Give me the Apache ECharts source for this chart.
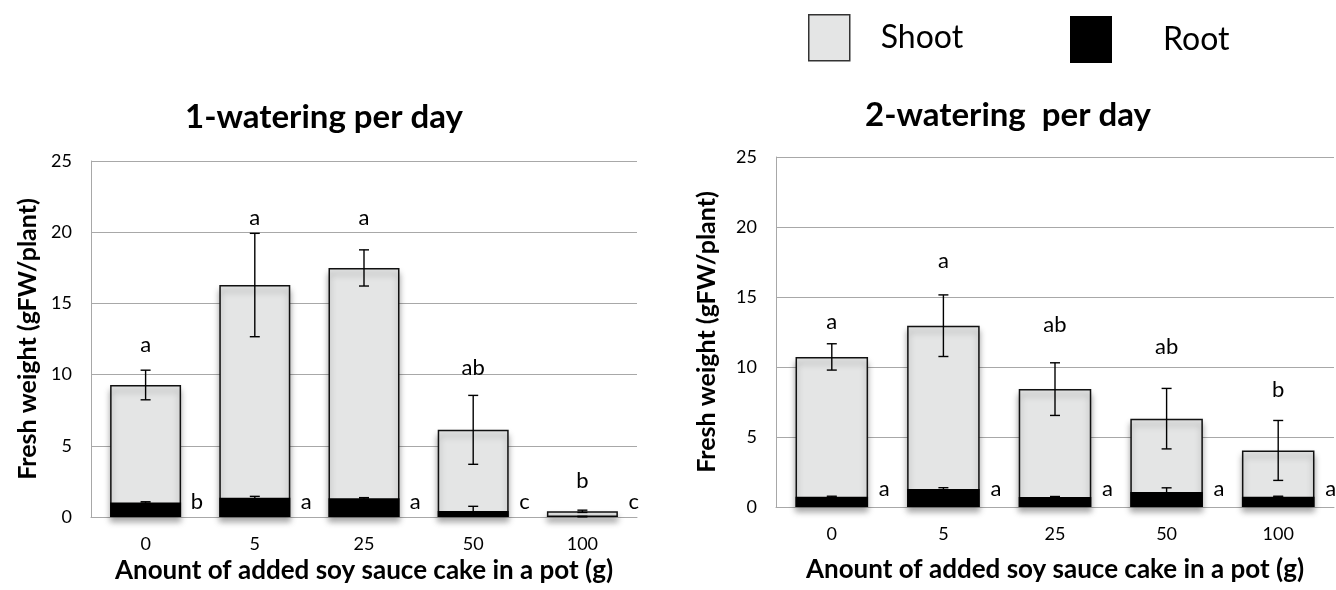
<!DOCTYPE html>
<html>
<head>
<meta charset="utf-8">
<script src="https://cdn.jsdelivr.net/npm/echarts@6/dist/echarts.min.js"></script>
<style>
  html, body { margin: 0; padding: 0; background: #ffffff; }
  #chart { width: 1336px; height: 590px; }
</style>
</head>
<body>
<div id="chart"></div>
<script>
// Amount of soy sauce cake added per pot (g)
const categories = ['0', '5', '25', '50', '100'];

// 1-watering per day: fresh weight (gFW/plant), mean and error
const shoot1 = [9.27, 16.29, 17.49, 6.12, 0.40];
const shoot1Err = [1.04, 3.63, 1.27, 2.42, 0.08];
const root1 = [1.02, 1.35, 1.31, 0.42, 0.03];
const root1Err = [0.05, 0.10, 0.05, 0.33, 0.02];
const shoot1Letters = ['a', 'a', 'a', 'ab', 'b'];
const shoot1LetterAt = [12.1, 21.0, 21.0, 10.5, 2.5];
const root1Letters = ['b', 'a', 'a', 'c', 'c'];
const root1LetterAt = 1.05;

// 2-watering per day
const shoot2 = [10.72, 12.95, 8.42, 6.31, 4.04];
const shoot2Err = [0.94, 2.20, 1.88, 2.16, 2.14];
const root2 = [0.73, 1.28, 0.71, 1.07, 0.74];
const root2Err = [0.04, 0.10, 0.04, 0.30, 0.03];
const shoot2Letters = ['a', 'a', 'ab', 'ab', 'b'];
const shoot2LetterAt = [13.2, 17.6, 13.0, 11.45, 8.35];
const root2Letters = ['a', 'a', 'a', 'a', 'a'];
const root2LetterAt = 1.3;

const panelTitles = ['1-watering per day', '2-watering  per day'];
const yName = 'Fresh weight (gFW/plant)';
const xName = 'Anount of added soy sauce cake in a pot (g)';

const FONT = 'Lato, "Open Sans", sans-serif';
const SHOOT_FILL = '#e4e5e5';
const GRID_LINE = '#a8a8a8';

function errorBarItem(params, api) {
  const x = api.value(0), v = api.value(1), e = api.value(2);
  const hi = api.coord([x, v + e]);
  const lo = api.coord([x, v - e]);
  const half = 5;
  const st = { stroke: '#000', lineWidth: 1.4 };
  return {
    type: 'group',
    children: [
      { type: 'line', shape: { x1: hi[0], y1: hi[1], x2: lo[0], y2: lo[1] }, style: st },
      { type: 'line', shape: { x1: hi[0] - half, y1: hi[1], x2: hi[0] + half, y2: hi[1] }, style: st },
      { type: 'line', shape: { x1: lo[0] - half, y1: lo[1], x2: lo[0] + half, y2: lo[1] }, style: st }
    ]
  };
}

function letterRenderer(letters, shiftFrac) {
  return function (params, api) {
    const p = api.coord([api.value(0), api.value(1)]);
    const w = api.size([1, 0])[0];
    return {
      type: 'text',
      x: p[0] + w * shiftFrac,
      y: p[1],
      style: {
        text: letters[params.dataIndex],
        fill: '#000',
        fontSize: 22,
        fontFamily: FONT,
        align: 'center',
        verticalAlign: 'middle'
      }
    };
  };
}

function panelSeries(idx, shoot, shootErr, root, rootErr, sLetters, sLetterAt, rLetters, rLetterAt) {
  const shadow = { shadowColor: 'rgba(0,0,0,0.35)', shadowBlur: 6, shadowOffsetY: 5 };
  return [
    {
      name: 'Shoot', type: 'bar', xAxisIndex: idx, yAxisIndex: idx,
      data: shoot, barCategoryGap: '35%', barGap: '-100%',
      itemStyle: Object.assign({ color: SHOOT_FILL, borderColor: '#111', borderWidth: 1.5 }, shadow),
      emphasis: { disabled: true }, z: 2
    },
    {
      name: 'Root', type: 'bar', xAxisIndex: idx, yAxisIndex: idx,
      data: root, barCategoryGap: '35%', barGap: '-100%',
      itemStyle: { color: '#000', borderWidth: 0 },
      emphasis: { disabled: true }, z: 3
    },
    {
      type: 'custom', xAxisIndex: idx, yAxisIndex: idx, z: 4,
      renderItem: errorBarItem, encode: { x: 0, y: 1 },
      data: shoot.map((v, i) => [i, v, shootErr[i]])
    },
    {
      type: 'custom', xAxisIndex: idx, yAxisIndex: idx, z: 4,
      renderItem: errorBarItem, encode: { x: 0, y: 1 },
      data: root.map((v, i) => [i, v, rootErr[i]])
    },
    {
      type: 'custom', xAxisIndex: idx, yAxisIndex: idx, z: 5,
      renderItem: letterRenderer(sLetters, 0), encode: { x: 0, y: 1 },
      data: sLetterAt.map((v, i) => [i, v])
    },
    {
      type: 'custom', xAxisIndex: idx, yAxisIndex: idx, z: 5,
      renderItem: letterRenderer(rLetters, 0.47), encode: { x: 0, y: 1 },
      data: categories.map((c, i) => [i, rLetterAt])
    }
  ];
}

function xAxisFor(idx, nameGap) {
  return {
    type: 'category', gridIndex: idx, data: categories,
    axisLine: { show: true, lineStyle: { color: GRID_LINE, width: 1 } },
    axisTick: { show: false },
    axisLabel: { color: '#000', fontSize: 18, fontFamily: FONT, margin: 18 },
    name: xName, nameLocation: 'middle', nameGap: nameGap,
    nameTextStyle: { color: '#000', fontSize: 26, fontWeight: 'bold', fontFamily: FONT }
  };
}

function yAxisFor(idx, nameGap) {
  return {
    type: 'value', gridIndex: idx, min: 0, max: 25, interval: 5,
    axisLine: { show: true, lineStyle: { color: GRID_LINE, width: 1 } },
    axisTick: { show: false },
    splitLine: { show: true, lineStyle: { color: GRID_LINE, width: 1 } },
    axisLabel: { color: '#000', fontSize: 18, fontFamily: FONT, margin: 19 },
    name: yName, nameLocation: 'middle', nameGap: nameGap,
    nameTextStyle: { color: '#000', fontSize: 25, fontWeight: 'bold', fontFamily: FONT }
  };
}

const chart = echarts.init(document.getElementById('chart'), null, { renderer: 'canvas' });

chart.setOption({
  backgroundColor: '#ffffff',
  animation: false,
  title: [
    { text: panelTitles[0], left: 319, top: 96, textAlign: 'center',
      textStyle: { color: '#000', fontSize: 33, fontWeight: 'bold', fontFamily: FONT } },
    { text: panelTitles[1], left: 1003, top: 94, textAlign: 'center',
      textStyle: { color: '#000', fontSize: 33, fontWeight: 'bold', fontFamily: FONT } }
  ],
  legend: [
    {
      data: [{ name: 'Shoot', itemStyle: { color: SHOOT_FILL, borderColor: '#333', borderWidth: 1.5 } }],
      left: 808, top: 14, padding: 0, icon: 'rect', itemWidth: 41, itemHeight: 46,
      selectedMode: false,
      textStyle: { color: '#000', fontSize: 32, fontFamily: FONT, padding: [0, 0, 0, 26] }
    },
    {
      data: [{ name: 'Root', itemStyle: { color: '#000', borderWidth: 0 } }],
      left: 1070, top: 16, padding: 0, icon: 'rect', itemWidth: 42, itemHeight: 47,
      selectedMode: false,
      textStyle: { color: '#000', fontSize: 32, fontFamily: FONT, padding: [0, 0, 0, 46] }
    }
  ],
  grid: [
    { left: 91, top: 161, width: 546, height: 356 },
    { left: 776, top: 157, width: 558, height: 350 }
  ],
  xAxis: [xAxisFor(0, 41), xAxisFor(1, 50)],
  yAxis: [yAxisFor(0, 51), yAxisFor(1, 57)],
  series: [].concat(
    panelSeries(0, shoot1, shoot1Err, root1, root1Err, shoot1Letters, shoot1LetterAt, root1Letters, root1LetterAt),
    panelSeries(1, shoot2, shoot2Err, root2, root2Err, shoot2Letters, shoot2LetterAt, root2Letters, root2LetterAt)
  )
});
</script>
</body>
</html>
